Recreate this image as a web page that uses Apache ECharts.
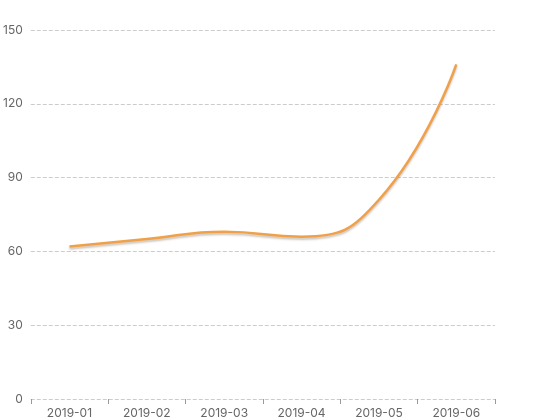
<!DOCTYPE html>
<html><head><meta charset="utf-8">
<script src="https://cdn.jsdelivr.net/npm/echarts@6/dist/echarts.min.js"></script>
<style>html,body{margin:0;padding:0;background:#fff}#c{width:550px;height:420px}</style>
</head><body><div id="c"></div>
<script>
const categories = ['2019-01','2019-02','2019-03','2019-04','2019-05','2019-06'];
const values = [62, 65, 68, 66, 81, 136];
const yTicks = {min: 0, max: 150, interval: 30};

const chart = echarts.init(document.getElementById('c'));
chart.setOption({
  animation: false,
  grid: {left: 30, right: 55, top: 30, bottom: 21},
  xAxis: {
    type: 'category',
    data: categories,
    boundaryGap: true,
    axisLine: {show: false},
    axisTick: {show: true, lineStyle: {color: '#999'}},
    axisLabel: {color: '#666', fontSize: 12, fontFamily: 'Inter', margin: 8}
  },
  yAxis: {
    type: 'value',
    min: yTicks.min, max: yTicks.max, interval: yTicks.interval,
    axisLine: {show: false},
    axisTick: {show: false},
    axisLabel: {color: '#666', fontSize: 12, fontFamily: 'Inter', margin: 8},
    splitLine: {lineStyle: {type: 'dashed', color: '#ccc'}}
  },
  series: [{
    type: 'line',
    data: values,
    smooth: true,
    showSymbol: false,
    symbol: 'none',
    lineStyle: {
      color: '#F0A048', width: 2.5,
      shadowColor: 'rgba(90,60,30,0.3)', shadowBlur: 2, shadowOffsetY: 2
    }
  }]
});
</script></body></html>
